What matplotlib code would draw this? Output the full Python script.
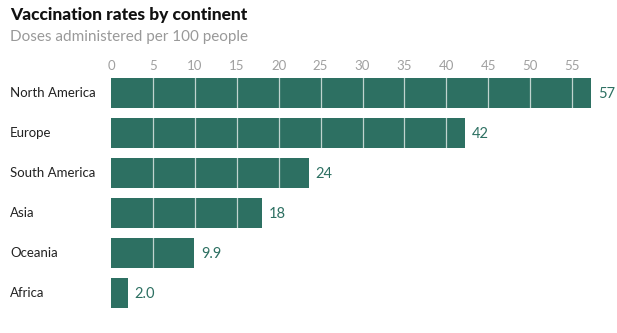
import matplotlib
matplotlib.use("Agg")
import matplotlib.pyplot as plt
import matplotlib.transforms as mtransforms
import numpy as np

plt.rcParams['font.family'] = ['Lato', 'DejaVu Sans']

continents = ['North America', 'Europe', 'South America', 'Asia', 'Oceania', 'Africa']
doses = [57.3, 42.2, 23.6, 18.0, 9.9, 2.0]
x_ticks = [0, 5, 10, 15, 20, 25, 30, 35, 40, 45, 50, 55]

BAR = '#2d7062'
W, H = 617, 333

fig = plt.figure(figsize=(W / 100, H / 100), dpi=100)
ax = fig.add_axes([111 / W, 1 - 313 / H, (614 - 111) / W, (313 - 73) / H])

y = np.arange(len(continents))
ax.barh(y, doses, height=0.75, color=BAR, zorder=2)

# light grid lines visible only over the bars
for t in x_ticks[1:]:
    ax.axvline(t, color='white', alpha=0.7, lw=0.9, zorder=3)

for yi, v in zip(y, doses):
    lab = f'{v:.1f}' if v < 10 else f'{v:.0f}'
    ax.annotate(lab, (v, yi), xytext=(5, -1), textcoords='offset points',
                va='center', ha='left', fontsize=10.5, color=BAR)

ax.set_xlim(0, 60)
ax.set_ylim(len(continents) - 0.5, -0.5)
ax.xaxis.tick_top()
ax.set_xticks(x_ticks)
ax.tick_params(axis='x', length=0, pad=1, labelsize=9.5, labelcolor='#a0a0a0')
ax.set_yticks([])
for s in ax.spines.values():
    s.set_visible(False)

trans = mtransforms.blended_transform_factory(fig.transFigure, ax.transData)
for yi, name in zip(y, continents):
    ax.text(10 / W, yi, name, transform=trans, ha='left', va='center',
            fontsize=9.5, color='#222222')

fig.text(10 / W, 1 - 15 / H, 'Vaccination rates by continent', ha='left', va='center',
         fontsize=12.5, fontweight='black', color='#111111')
fig.text(10 / W, 1 - 37 / H, 'Doses administered per 100 people', ha='left', va='center',
         fontsize=11, color='#999999')

fig.savefig('out.png', dpi=100)
